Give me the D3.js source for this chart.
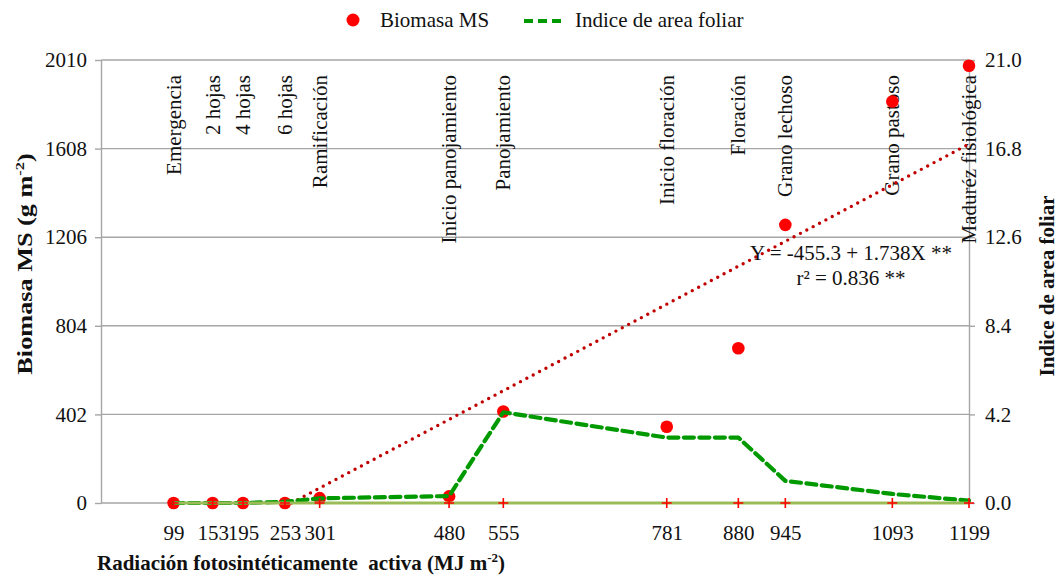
<!DOCTYPE html>
<html>
<head>
<meta charset="utf-8">
<script src="https://cdn.jsdelivr.net/npm/d3@7"></script>
<style>
  html, body { margin: 0; padding: 0; background: #fff; }
  svg { display: block; font-family: "Liberation Serif", "Times New Roman", serif; }
</style>
</head>
<body>
<svg id="chart" width="1060" height="575"></svg>
<script>
// ---- data ----
const radiation = [99, 153, 195, 253, 301, 480, 555, 781, 880, 945, 1093, 1199];
const stages = ["Emergencia", "2 hojas", "4 hojas", "6 hojas", "Ramificación", "Inicio panojamiento",
  "Panojamiento", "Inicio floración", "Floración", "Grano lechoso", "Grano pastoso", "Maduréz fisiológica"];
const biomass = [0, 0, 0, 0, 22, 30, 415, 346, 702, 1262, 1822, 1984];
const lai = [0, 0, 0, 0.06, 0.22, 0.33, 4.3, 3.1, 3.1, 1.05, 0.43, 0.11];
const leftTicks = [0, 402, 804, 1206, 1608, 2010];
const rightTicks = [0, 4.2, 8.4, 12.6, 16.8, 21.0];
const trendIntercept = -455.3, trendSlope = 1.738;
const eqText = "Y = -455.3 + 1.738X **";
const r2Text = "r² = 0.836 **";

// ---- layout ----
const svg = d3.select("#chart");
const L = 101, R = 969, T = 60, B = 503;
const FONT = 21;
const x = d3.scaleLinear().domain([0, 1199]).range([102, R]);
const yL = d3.scaleLinear().domain([0, 2010]).range([B, T]);
const yR = d3.scaleLinear().domain([0, 21]).range([B, T]);
const gridColor = "#a6a6a6";

// gridlines
svg.append("g").selectAll("line").data(leftTicks).join("line")
  .attr("x1", L).attr("x2", R)
  .attr("y1", d => yL(d)).attr("y2", d => yL(d))
  .attr("stroke", gridColor).attr("stroke-width", 1.4);

// left axis
const gL = svg.append("g").attr("transform", `translate(${L},0)`)
  .call(d3.axisLeft(yL).tickValues(leftTicks).tickSize(6).tickSizeOuter(0).tickPadding(8).tickFormat(d3.format("d")));
gL.select(".domain").attr("stroke", gridColor).attr("stroke-width", 1.4);
gL.selectAll(".tick line").attr("stroke", gridColor).attr("stroke-width", 1.4);
gL.selectAll("text").attr("font-size", FONT).attr("font-family", "Liberation Serif").attr("fill", "#111");

// right axis
const gR = svg.append("g").attr("transform", `translate(${R},0)`)
  .call(d3.axisRight(yR).tickValues(rightTicks).tickSize(6).tickSizeOuter(0).tickPadding(10).tickFormat(d3.format(".1f")));
gR.select(".domain").attr("stroke", gridColor).attr("stroke-width", 1.4);
gR.selectAll(".tick line").attr("stroke", gridColor).attr("stroke-width", 1.4);
gR.selectAll("text").attr("font-size", FONT).attr("font-family", "Liberation Serif").attr("fill", "#111");

// stage labels (rotated)
svg.append("g").selectAll("text").data(stages).join("text")
  .attr("transform", (d, i) => `translate(${x(radiation[i])},75) rotate(-90)`)
  .attr("text-anchor", "end").attr("dy", "0.33em")
  .attr("font-size", FONT).attr("fill", "#111")
  .text(d => d);

// trendline (clipped at y = 0)
const xStart = -trendIntercept / trendSlope;
const xEnd = radiation[radiation.length - 1];
svg.append("line")
  .attr("x1", x(xStart)).attr("y1", yL(trendIntercept + trendSlope * xStart))
  .attr("x2", x(xEnd)).attr("y2", yL(trendIntercept + trendSlope * xEnd))
  .attr("stroke", "#c00000").attr("stroke-width", 3.4)
  .attr("stroke-linecap", "round").attr("stroke-dasharray", "0 7.2");

// biomass points
svg.append("g").selectAll("circle").data(biomass).join("circle")
  .attr("cx", (d, i) => x(radiation[i])).attr("cy", d => yL(d))
  .attr("r", 6.3).attr("fill", "#ff0000");

// LAI line
const laiLine = d3.line().x((d, i) => x(radiation[i])).y(d => yR(d));
svg.append("path").datum(lai).attr("d", laiLine)
  .attr("fill", "none").attr("stroke", "#009a00").attr("stroke-width", 4.2)
  .attr("stroke-dasharray", "10 5.5").attr("stroke-linecap", "round").attr("stroke-linejoin", "round");

// baseline series at zero with plus markers
const zeroLine = d3.line().x(d => x(d)).y(() => yL(0));
svg.append("path").datum(radiation).attr("d", zeroLine)
  .attr("fill", "none").attr("stroke", "#9bbb59").attr("stroke-width", 3);
svg.append("g").selectAll("path").data(radiation).join("path")
  .attr("transform", d => `translate(${x(d)},${yL(0)})`)
  .attr("d", "M-5,0H5M0,-5V5")
  .attr("stroke", "#ff0000").attr("stroke-width", 1.6).attr("fill", "none");

// bottom value labels
const gB = svg.append("g").attr("transform", `translate(0,${B})`)
  .call(d3.axisBottom(x).tickValues(radiation).tickSize(0).tickPadding(22).tickFormat(d3.format("d")));
gB.select(".domain").remove();
gB.selectAll("text").attr("font-size", FONT).attr("font-family", "Liberation Serif").attr("fill", "#111");

// equation annotation
svg.append("text").attr("x", 851).attr("y", 260).attr("text-anchor", "middle")
  .attr("font-size", FONT).attr("fill", "#111").text(eqText);
svg.append("text").attr("x", 851).attr("y", 285).attr("text-anchor", "middle")
  .attr("font-size", FONT).attr("fill", "#111").text(r2Text);

// axis titles
const xt = svg.append("text").attr("x", 97).attr("y", 570)
  .attr("font-size", FONT).attr("font-weight", "bold").attr("fill", "#111")
  .style("white-space", "pre");
xt.append("tspan").text("Radiación fotosintéticamente  activa (MJ m");
xt.append("tspan").attr("font-size", 13).attr("dy", -8).text("-2");
xt.append("tspan").attr("dy", 8).text(")");

const ylt = svg.append("text").attr("transform", "translate(32,264) rotate(-90) scale(1.25,1)")
  .attr("text-anchor", "middle").attr("font-size", FONT).attr("font-weight", "bold").attr("fill", "#111");
ylt.append("tspan").text("Biomasa MS (g m");
ylt.append("tspan").attr("font-size", 13).attr("dy", -8).text("-2");
ylt.append("tspan").attr("dy", 8).text(")");

svg.append("text").attr("transform", "translate(1054,286) rotate(-90)")
  .attr("text-anchor", "middle").attr("font-size", FONT).attr("font-weight", "bold").attr("fill", "#111")
  .text("Indice de area foliar");

// legend
const lg = svg.append("g");
lg.append("circle").attr("cx", 353).attr("cy", 20).attr("r", 6.5).attr("fill", "#ff0000");
lg.append("text").attr("x", 380).attr("y", 27).attr("font-size", FONT).attr("fill", "#111").text("Biomasa MS");
lg.append("line").attr("x1", 524).attr("x2", 565).attr("y1", 21).attr("y2", 21)
  .attr("stroke", "#009a00").attr("stroke-width", 4).attr("stroke-dasharray", "9 5");
lg.append("text").attr("x", 575).attr("y", 27).attr("font-size", FONT).attr("fill", "#111").text("Indice de area foliar");
</script>
</body>
</html>
